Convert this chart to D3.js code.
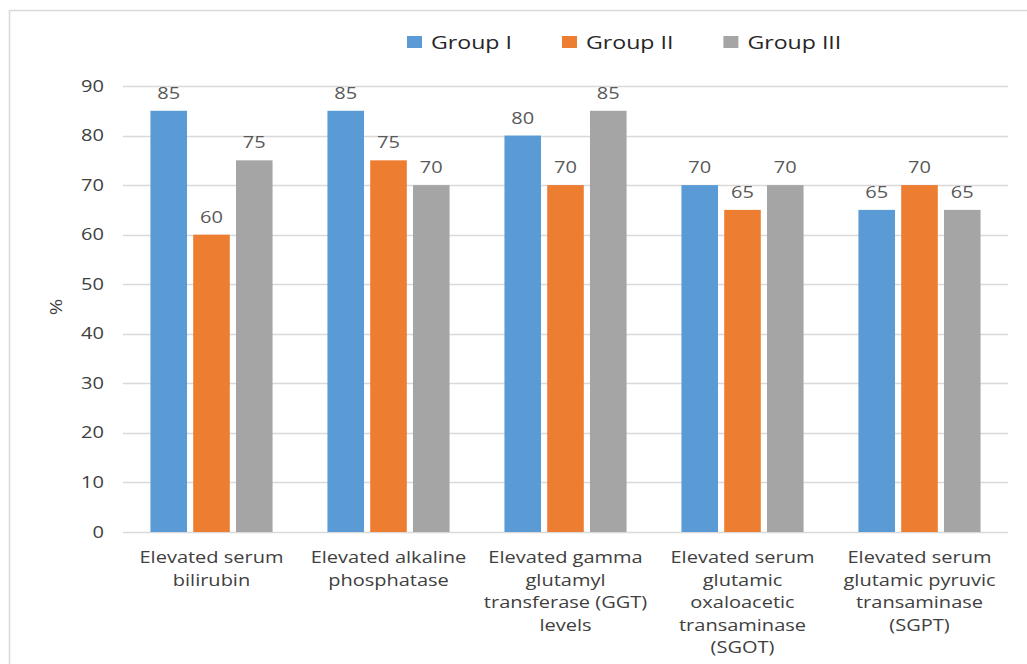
<!DOCTYPE html>
<html>
<head>
<meta charset="utf-8">
<script src="https://cdn.jsdelivr.net/npm/d3@7"></script>
<style>
  body { margin: 0; background: #fff; }
  text { font-family: "Open Sans", sans-serif; }
</style>
</head>
<body>
<div class="chart"></div>
<script>
// data
var categories = [
  ["Elevated serum", "bilirubin"],
  ["Elevated alkaline", "phosphatase"],
  ["Elevated gamma", "glutamyl", "transferase (GGT)", "levels"],
  ["Elevated serum", "glutamic", "oxaloacetic", "transaminase", "(SGOT)"],
  ["Elevated serum", "glutamic pyruvic", "transaminase", "(SGPT)"]
];
var groups = ["Group I", "Group II", "Group III"];
var groupI = [85, 85, 80, 70, 65];
var groupII = [60, 75, 70, 65, 70];
var groupIII = [75, 70, 85, 70, 65];
var yTicks = [0, 10, 20, 30, 40, 50, 60, 70, 80, 90];
var colors = ["#5B9BD5", "#ED7D31", "#A5A5A5"];

var svgWidth = 1027;
var svgHeight = 664;
var stretch = 1.25; // text in the picture is widened horizontally

var margin = { top: 86, right: 19, bottom: 132, left: 123 };
var width = svgWidth - margin.left - margin.right;
var height = svgHeight - margin.top - margin.bottom;

var svg = d3.select(".chart")
  .append("svg")
  .attr("width", svgWidth)
  .attr("height", svgHeight);

// outer frame (left and top edges only are visible)
svg.append("path")
  .attr("d", "M9.5,664 L9.5,10.5 L1027,10.5")
  .attr("fill", "none")
  .attr("stroke", "#D9D9D9")
  .attr("stroke-width", 1.5);

var chartGroup = svg.append("g")
  .attr("transform", `translate(${margin.left}, ${margin.top})`);

// build table rows
var rows = categories.map(function (c, i) {
  return { cat: i, values: [groupI[i], groupII[i], groupIII[i]] };
});

var x0 = d3.scaleBand()
  .domain(d3.range(categories.length))
  .range([0, width])
  .paddingInner(0.31)
  .paddingOuter(0.155);

var x1 = d3.scaleBand()
  .domain(d3.range(groups.length))
  .range([0, x0.bandwidth()])
  .paddingInner(0.145);

var y = d3.scaleLinear()
  .domain([0, 90])
  .range([height, 0]);

// helper: text placed at x,y and widened
function wideText(sel, px, py) {
  return sel.attr("transform", `translate(${px}, ${py}) scale(${stretch}, 1)`);
}

// gridlines
chartGroup.append("g")
  .selectAll("line")
  .data(yTicks)
  .enter()
  .append("line")
  .attr("x1", 0)
  .attr("x2", width)
  .attr("y1", d => Math.round(y(d)) + 0.5)
  .attr("y2", d => Math.round(y(d)) + 0.5)
  .attr("stroke", "#D9D9D9")
  .attr("stroke-width", 1.5);

// y tick labels
chartGroup.append("g")
  .selectAll("text")
  .data(yTicks)
  .enter()
  .append("text")
  .each(function (d) { wideText(d3.select(this), -19, y(d)); })
  .attr("dy", "0.35em")
  .style("text-anchor", "end")
  .style("font-size", "16px")
  .style("fill", "#404040")
  .text(d => d);

// bars
var catGroups = chartGroup.selectAll(".cat")
  .data(rows)
  .enter()
  .append("g")
  .attr("class", "cat")
  .attr("transform", d => `translate(${x0(d.cat)}, 0)`);

catGroups.selectAll("rect")
  .data(d => d.values)
  .enter()
  .append("rect")
  .attr("x", (d, i) => x1(i))
  .attr("y", d => y(d))
  .attr("width", x1.bandwidth())
  .attr("height", d => height - y(d))
  .attr("fill", (d, i) => colors[i]);

// value labels
catGroups.selectAll(".val")
  .data(d => d.values)
  .enter()
  .append("text")
  .attr("class", "val")
  .each(function (d, i) { wideText(d3.select(this), x1(i) + x1.bandwidth() / 2, y(d) - 12); })
  .style("text-anchor", "middle")
  .style("font-size", "16px")
  .style("fill", "#595959")
  .text(d => d);

// category labels
catGroups.each(function (d) {
  var g = d3.select(this);
  categories[d.cat].forEach(function (line, k) {
    wideText(g.append("text"), x0.bandwidth() / 2, height + 31 + k * 22.6)
      .style("text-anchor", "middle")
      .style("font-size", "16px")
      .style("fill", "#404040")
      .text(line);
  });
});

// y axis title
svg.append("text")
  .attr("transform", "translate(62, 307) rotate(-90) scale(1.25, 1)")
  .style("text-anchor", "middle")
  .style("font-size", "16px")
  .style("fill", "#404040")
  .text("%");

// legend
var legend = svg.append("g");
var lx = 407;
groups.forEach(function (name, i) {
  legend.append("rect")
    .attr("x", lx)
    .attr("y", 36)
    .attr("width", 15)
    .attr("height", 12)
    .attr("fill", colors[i]);
  var t = wideText(legend.append("text"), lx + 24, 49)
    .style("font-size", "18.5px")
    .style("fill", "#262626")
    .text(name);
  var w = t.node().getComputedTextLength() * stretch;
  lx = lx + 24 + w + 50;
});
</script>
</body>
</html>
